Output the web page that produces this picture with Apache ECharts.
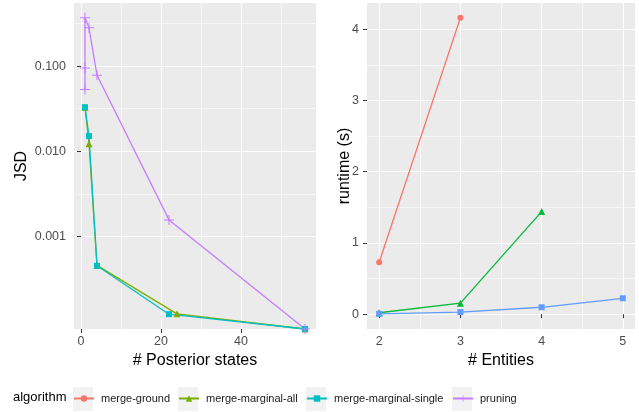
<!DOCTYPE html>
<html>
<head>
<meta charset="utf-8">
<script src="https://cdn.jsdelivr.net/npm/echarts@6/dist/echarts.min.js"></script>
<style>
  html, body { margin: 0; padding: 0; background: #fff; }
  #chart { width: 639px; height: 412px; }
</style>
</head>
<body>
<div id="chart"></div>
<script>
// left panel: JSD vs # Posterior states (0 = drawn at the panel bottom, like ggplot's -Inf)
var statesPruning = [1, 1, 1, 2, 4, 22, 56]
var jsdPruning = [0.053, 0.095, 0.368, 0.281, 0.078, 0.00157, 0]
var statesAll = [1, 2, 4, 24, 56]
var jsdAll = [0.033, 0.0123, 0.00046, 0.000124, 0]
var statesSingle = [1, 2, 4, 22, 56]
var jsdSingle = [0.0329, 0.0151, 0.000454, 0.000123, 0]

// right panel: runtime vs # Entities
var entitiesGround = [2, 3]
var runtimeGround = [0.73, 4.16]
var entitiesAll = [2, 3, 4]
var runtimeAll = [0.02, 0.155, 1.44]
var entitiesSingle = [2, 3, 4, 5]
var runtimeSingle = [0.005, 0.03, 0.097, 0.223]

var algorithms = ['merge-ground', 'merge-marginal-all', 'merge-marginal-single', 'pruning']

var jsdTicks = [0.001, 0.01, 0.1]
var jsdMinor = [Math.pow(10, -2.5), Math.pow(10, -1.5), Math.pow(10, -0.5)]
var statesTicks = [0, 20, 40]
var statesMinor = [10, 30, 50]
var runtimeTicks = [0, 1, 2, 3, 4]
var runtimeMinor = [0.5, 1.5, 2.5, 3.5]
var entitiesTicks = [2, 3, 4, 5]
var entitiesMinor = [2.5, 3.5, 4.5]

var jsdMin = Math.pow(10, -4.084)
var jsdMax = Math.pow(10, -0.26)

var font = 'Liberation Sans'
var plusPath = 'path://M0,4.5H10V5.5H0Z M4.5,0H5.5V10H4.5Z'

function pairs (xs, ys, floor) {
  return xs.map(function (x, i) {
    var y = ys[i]
    if (floor !== undefined && y <= 0) y = floor
    return [x, y]
  })
}

function majorAxis (type, grid, min, max, ticks, fmt, extra) {
  var ax = {
    type: type,
    gridIndex: grid,
    min: min,
    max: max,
    axisLine: { show: false },
    axisTick: { show: true, length: 4, customValues: ticks, lineStyle: { color: '#333333', width: 1 } },
    axisLabel: { show: true, customValues: ticks, color: '#4D4D4D', fontFamily: font, fontSize: 12.5, formatter: fmt },
    splitLine: { show: true, lineStyle: { color: '#FFFFFF', width: 1.1 } },
    nameLocation: 'middle',
    nameMoveOverlap: false,
    nameTextStyle: { color: '#000', fontFamily: font, fontSize: 16 }
  }
  for (var k in extra) ax[k] = extra[k]
  return ax
}

function minorAxis (type, grid, min, max, ticks) {
  return {
    type: type,
    gridIndex: grid,
    min: min,
    max: max,
    axisLine: { show: false },
    axisTick: { show: false, customValues: ticks },
    axisLabel: { show: false },
    splitLine: { show: true, lineStyle: { color: '#FFFFFF', width: 0.55 } }
  }
}

var chart = echarts.init(document.getElementById('chart'))

var lineW = 1.3
function lineSeries (name, color, symbol, size, x, y, data) {
  return {
    name: name,
    type: 'line',
    xAxisIndex: x,
    yAxisIndex: y,
    data: data,
    symbol: symbol,
    symbolSize: size,
    showSymbol: true,
    animation: false,
    itemStyle: { color: color },
    lineStyle: { color: color, width: lineW },
    emphasis: { disabled: true }
  }
}

var legendLefts = [73, 178, 306, 452]
var legends = algorithms.map(function (a, i) {
  return {
    data: [a],
    left: legendLefts[i],
    top: 393,
    padding: 0,
    itemWidth: 20,
    itemHeight: 8,
    selectedMode: false,
    textStyle: { fontFamily: font, fontSize: 11, color: '#1A1A1A', padding: [0, 0, 0, 2] }
  }
})

var xLabel = { customValues: null, color: '#4D4D4D', fontFamily: font, fontSize: 12.5, margin: 6 }

var option = {
  backgroundColor: '#FFFFFF',
  animation: false,
  grid: [
    { left: 74, top: 3, width: 242, height: 326, show: true, backgroundColor: '#EBEBEB', borderWidth: 0, outerBoundsMode: 'none' },
    { left: 367, top: 3, width: 268, height: 326, show: true, backgroundColor: '#EBEBEB', borderWidth: 0, outerBoundsMode: 'none' }
  ],
  xAxis: [
    majorAxis('value', 0, -1.75, 58.75, statesTicks, null, { name: '# Posterior states', nameGap: 24, axisLabel: Object.assign({}, xLabel, { customValues: statesTicks }) }),
    minorAxis('value', 0, -1.75, 58.75, statesMinor),
    majorAxis('value', 1, 1.85, 5.15, entitiesTicks, null, { name: '# Entities', nameGap: 24, axisLabel: Object.assign({}, xLabel, { customValues: entitiesTicks }) }),
    minorAxis('value', 1, 1.85, 5.15, entitiesMinor)
  ],
  yAxis: [
    majorAxis('log', 0, jsdMin, jsdMax, jsdTicks, function (v) { return Number(v).toFixed(3) }, { logBase: 10, name: 'JSD', nameGap: 44, nameRotate: 90 }),
    minorAxis('log', 0, jsdMin, jsdMax, jsdMinor),
    majorAxis('value', 1, -0.208, 4.368, runtimeTicks, null, { name: 'runtime (s)', nameGap: 14, nameRotate: 90 }),
    minorAxis('value', 1, -0.208, 4.368, runtimeMinor)
  ],
  legend: legends,
  graphic: [
    { type: 'text', left: 13, top: 391, style: { text: 'algorithm', fontFamily: font, fontSize: 13, fill: '#000' } }
  ].concat(legendLefts.map(function (l) {
    return { type: 'rect', left: l, top: 387, z: -1, shape: { width: 20, height: 24 }, style: { fill: '#F2F2F2' } }
  })),
  series: [
    lineSeries('merge-marginal-all', '#7CAE00', 'triangle', 7, 0, 0, pairs(statesAll, jsdAll, jsdMin)),
    lineSeries('merge-marginal-single', '#00BFC4', 'rect', 6, 0, 0, pairs(statesSingle, jsdSingle, jsdMin)),
    lineSeries('pruning', '#C77CFF', plusPath, 10, 0, 0, pairs(statesPruning, jsdPruning, jsdMin)),
    lineSeries('merge-ground', '#F8766D', 'circle', 6, 2, 2, pairs(entitiesGround, runtimeGround)),
    lineSeries('merge-marginal-all', '#00BA38', 'triangle', 7, 2, 2, pairs(entitiesAll, runtimeAll)),
    lineSeries('merge-marginal-single', '#619CFF', 'rect', 6, 2, 2, pairs(entitiesSingle, runtimeSingle))
  ]
}

chart.setOption(option)
</script>
</body>
</html>
